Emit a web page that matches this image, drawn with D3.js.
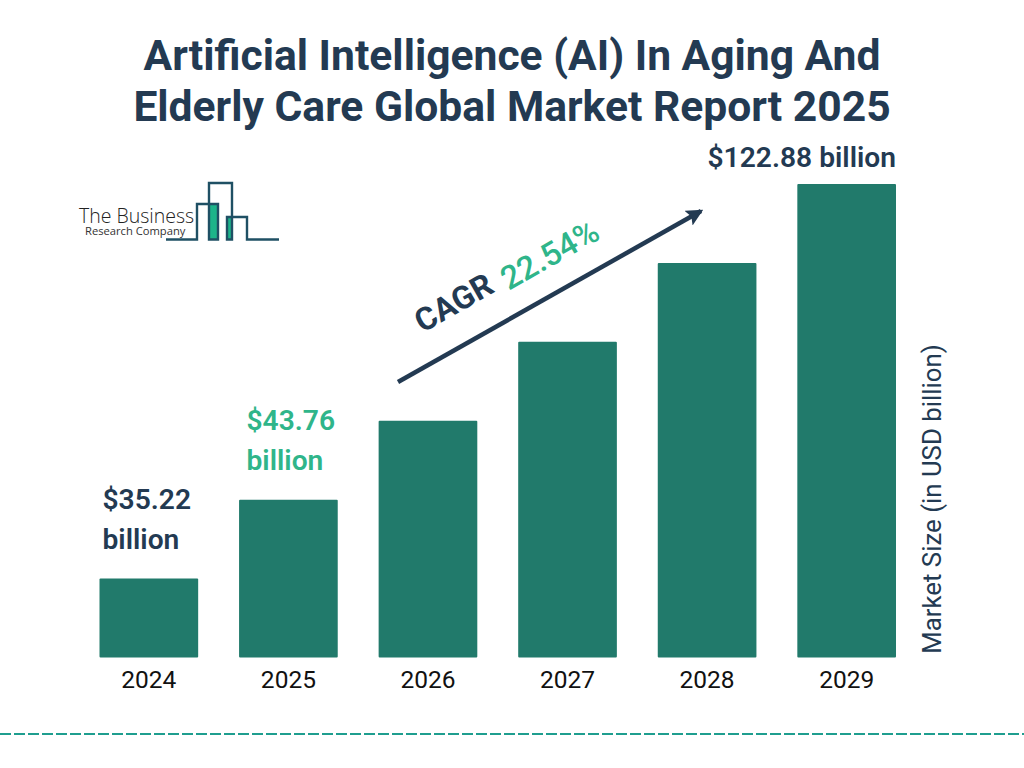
<!DOCTYPE html>
<html>
<head>
<meta charset="utf-8">
<script src="https://cdn.jsdelivr.net/npm/d3@7"></script>
<style>
  html, body { margin: 0; padding: 0; background: #fff; }
  svg { display: block; font-family: Roboto, sans-serif; }
</style>
</head>
<body>
<div id="chart"></div>
<script>
const years = ['2024', '2025', '2026', '2027', '2028', '2029'];
// the bars climb in even steps in the picture, whatever the printed figures say
const barLevels = [1, 2, 3, 4, 5, 6];
const valueLabels = [
  ['$35.22', 'billion'],
  ['$43.76', 'billion'],
  [],
  [],
  [],
  ['$122.88 billion'],
];
const titleLines = [
  'Artificial Intelligence (AI) In Aging And',
  'Elderly Care Global Market Report 2025',
];

const navy = '#233a52';
const green = '#2fb58a';
const barColor = '#217a6b';
const logoColor = '#1f5064';

const svg = d3.select('#chart').append('svg')
  .attr('width', 1024)
  .attr('height', 768);

const xScale = d3.scaleBand()
  .domain(years)
  .range([99.5, 896])
  .paddingInner(0.293);

const yScale = d3.scaleLinear()
  .domain([0, 6])
  .range([657.5, 184]);

// Title
svg.selectAll('.title')
  .data(titleLines)
  .enter()
  .append('text')
  .attr('class', 'title')
  .attr('x', 512)
  .attr('y', (d, i) => 69.5 + i * 51)
  .attr('text-anchor', 'middle')
  .attr('font-size', 42.6)
  .attr('font-weight', 700)
  .attr('fill', navy)
  .text(d => d);

// Bars
svg.selectAll('.bar')
  .data(barLevels)
  .enter()
  .append('rect')
  .attr('class', 'bar')
  .attr('x', (d, i) => xScale(years[i]))
  .attr('y', d => yScale(d))
  .attr('width', xScale.bandwidth())
  .attr('height', d => yScale(0) - yScale(d))
  .attr('rx', 1)
  .attr('fill', barColor);

// Year labels
const xAxis = svg.append('g')
  .attr('transform', 'translate(0,657.5)')
  .call(d3.axisBottom(xScale).tickSize(0).tickPadding(13));
xAxis.select('.domain').remove();
xAxis.selectAll('text')
  .attr('font-family', 'Roboto, sans-serif')
  .attr('font-size', 24.5)
  .attr('fill', '#111');

// Value labels, sat above the first two bars and the last one
const labelX = [102.5, 246.5, 0, 0, 0, 896];
valueLabels.forEach((lines, i) => {
  const lastBaseline = yScale(barLevels[i]) - (lines.length > 1 ? 30 : 17);
  svg.selectAll(`.label-${i}`)
    .data(lines)
    .enter()
    .append('text')
    .attr('class', `label-${i}`)
    .attr('x', labelX[i])
    .attr('y', (d, j) => lastBaseline - (lines.length - 1 - j) * 40)
    .attr('text-anchor', i === 5 ? 'end' : 'start')
    .attr('font-size', 28.2)
    .attr('font-weight', 600)
    .attr('fill', i === 1 ? green : navy)
    .text(d => d);
});

// CAGR arrow
svg.append('defs').append('marker')
  .attr('id', 'arrow')
  .attr('viewBox', '0 0 10 10')
  .attr('refX', 8.5)
  .attr('refY', 5)
  .attr('markerUnits', 'userSpaceOnUse')
  .attr('markerWidth', 17)
  .attr('markerHeight', 17)
  .attr('orient', 'auto')
  .append('path')
  .attr('d', 'M0,0 L10,5 L0,10 L2,5 Z')
  .attr('fill', navy);

svg.append('line')
  .attr('x1', 398)
  .attr('y1', 382)
  .attr('x2', 701)
  .attr('y2', 211)
  .attr('stroke', navy)
  .attr('stroke-width', 4.5)
  .attr('marker-end', 'url(#arrow)');

svg.append('text')
  .attr('transform', 'translate(455,305) rotate(-29.6)')
  .attr('text-anchor', 'middle')
  .attr('dominant-baseline', 'middle')
  .attr('font-size', 32)
  .attr('font-weight', 700)
  .attr('fill', navy)
  .text('CAGR');

svg.append('text')
  .attr('transform', 'translate(551,257) rotate(-29.6)')
  .attr('text-anchor', 'middle')
  .attr('dominant-baseline', 'middle')
  .attr('font-size', 32.5)
  .attr('font-weight', 500)
  .attr('fill', green)
  .text('22.54%');

// Axis title
svg.append('text')
  .attr('transform', 'translate(941,499) rotate(-90)')
  .attr('text-anchor', 'middle')
  .attr('font-size', 25.8)
  .attr('fill', navy)
  .text('Market Size (in USD billion)');

// Dashed rule at the bottom
svg.append('line')
  .attr('x1', 0)
  .attr('y1', 734)
  .attr('x2', 1024)
  .attr('y2', 734)
  .attr('stroke', '#1f9e8f')
  .attr('stroke-width', 2)
  .attr('stroke-dasharray', '11 3');

// Logo
const logo = svg.append('g');
logo.append('rect').attr('x', 209).attr('y', 204).attr('width', 9).attr('height', 35.5).attr('fill', '#1db48a');
logo.append('rect').attr('x', 227).attr('y', 217).attr('width', 5).attr('height', 22.5).attr('fill', '#1db48a');
logo.append('path')
  .attr('d', 'M166,239.5 H197 V204 H218 V239.5 H209 V183 H232 V239.5 H227 V217 H247 V239.5 H279')
  .attr('fill', 'none')
  .attr('stroke', logoColor)
  .attr('stroke-width', 2.4);
logo.append('text')
  .attr('x', 79)
  .attr('y', 223)
  .attr('font-family', '"Open Sans", sans-serif')
  .attr('font-size', 19.5)
  .attr('font-weight', 300)
  .attr('fill', '#222')
  .text('The Business');
logo.append('text')
  .attr('x', 85)
  .attr('y', 235)
  .attr('font-family', '"Open Sans", sans-serif')
  .attr('font-size', 11.2)
  .attr('fill', '#333')
  .text('Research Company');
</script>
</body>
</html>
